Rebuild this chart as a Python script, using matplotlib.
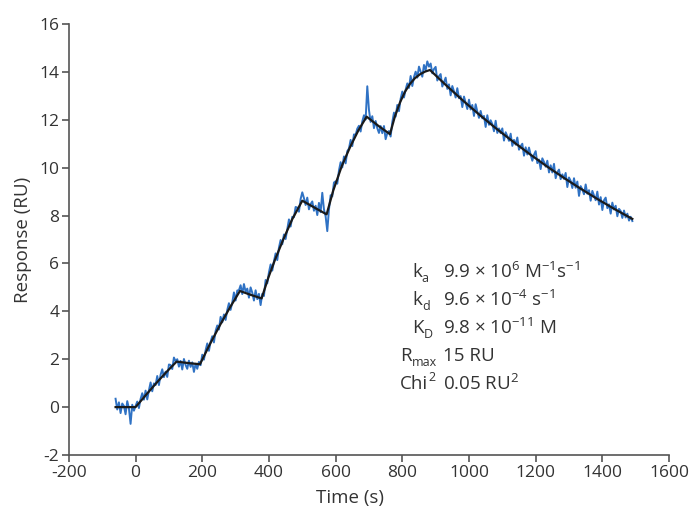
import matplotlib
matplotlib.use("Agg")
import matplotlib.pyplot as plt
import numpy as np

plt.rcParams["font.family"] = ["Open Sans", "DejaVu Sans"]
plt.rcParams["mathtext.fontset"] = "custom"
plt.rcParams["mathtext.rm"] = "Open Sans"
plt.rcParams["mathtext.default"] = "regular"
plt.rcParams["axes.unicode_minus"] = False

# sensorgram, sampled every 5 s from -60 to 1490 s
time_s = np.arange(-60, 1495, 5)
response_ru = [
    # baseline
    0.35, -0.10, 0.20, -0.25, 0.15, 0.05, -0.30, 0.25, -0.05, -0.70, 0.10, -0.15, 0.05,
    # injection 1
    0.23, -0.04, 0.34, 0.58, 0.31, 0.69, 0.32, 0.70, 1.03, 0.66, 0.99, 0.92,
    1.30, 0.92, 1.35, 1.58, 1.25, 1.48, 1.26, 1.78, 1.76, 1.59, 2.07, 1.92,
    2.00, 1.69, 1.93, 1.57, 2.01, 1.76, 1.60, 1.94, 1.68, 1.87, 1.47, 1.81, 1.60, 1.89,
    # injection 2
    1.75, 2.19, 1.98, 2.37, 2.66, 2.35, 2.73, 2.96, 2.70, 3.18, 3.41, 3.24,
    3.77, 3.54, 3.87, 3.64, 4.06, 4.34, 4.06, 4.37, 4.79, 4.45, 4.87, 4.88,
    5.09, 4.72, 5.14, 4.82, 4.95, 4.57, 5.00, 4.78, 4.45, 4.88, 4.51, 4.73, 4.26,
    # injection 3
    4.73, 4.64, 5.31, 5.17, 5.63, 5.96, 5.70, 6.09, 6.42, 6.14, 6.66, 6.98, 6.80,
    7.21, 7.02, 7.43, 7.84, 7.54, 7.95, 7.93, 8.36, 8.33, 8.16, 8.69, 8.97,
    8.73, 8.44, 8.75, 8.26, 8.48, 8.59, 8.20, 8.41, 8.02, 8.53, 8.14, 8.95, 8.26, 7.97,
    # injection 4
    7.35, 8.25, 8.85, 8.80, 9.38, 9.43, 9.33, 9.88, 10.23, 10.01, 10.47, 10.18,
    10.69, 10.80, 11.16, 10.90, 11.39, 11.37, 11.63, 11.75, 11.51, 11.93, 12.19, 12.01,
    13.40, 12.41, 11.91, 12.15, 11.65, 11.95, 11.65, 11.45, 11.74, 11.44, 11.74, 11.19, 11.44, 11.53,
    # injection 5
    11.30, 11.90, 12.30, 12.13, 12.62, 12.36, 12.88, 13.18, 12.93, 13.26, 13.52, 13.33,
    13.83, 13.41, 13.79, 14.01, 13.76, 14.22, 14.01, 13.80, 14.29, 14.07, 14.44, 14.22,
    # dissociation
    14.35, 13.94, 14.12, 14.21, 13.64, 13.82, 13.91, 13.39, 13.58, 13.76, 13.29, 13.48,
    13.02, 13.41, 13.19, 12.93, 13.32, 12.90, 12.99, 12.53, 12.97, 12.71, 12.45, 12.84,
    12.43, 12.62, 12.16, 12.65, 12.34, 12.08, 12.37, 12.06, 12.16, 11.70, 12.19, 11.79,
    11.98, 11.82, 11.52, 11.96, 11.45, 11.64, 11.44, 11.64, 11.13, 11.48, 11.32, 11.12,
    11.42, 10.91, 11.16, 10.96, 11.26, 10.75, 10.90, 11.00, 10.50, 10.85, 10.55, 10.84,
    10.54, 10.29, 10.54, 10.69, 10.19, 10.34, 9.94, 10.39, 10.24, 10.04, 10.29, 9.80,
    10.10, 9.80, 10.16, 9.56, 9.81, 9.92, 9.52, 9.72, 9.53, 9.78, 9.19, 9.59,
    9.45, 9.15, 9.56, 9.16, 9.42, 8.82, 9.23, 9.09, 8.89, 9.30, 8.91, 9.06,
    8.62, 9.03, 8.84, 8.64, 9.00, 8.46, 8.77, 8.23, 8.64, 8.75, 8.31, 8.47, 8.08,
    8.54, 8.25, 8.41, 7.97, 8.28, 8.19, 7.90, 8.21, 7.92, 8.08, 7.79, 7.95, 7.77,
]

# fitted 1:1 model curve
fit_t = [-60, 0, 30, 60, 90, 123, 158, 193, 223, 253, 283, 313, 345, 378, 398, 418,
         443, 470, 500, 537, 573, 593, 618, 643, 668, 693, 728, 763, 778, 793, 808,
         823, 838, 853, 868, 883, 933, 983, 1033, 1083, 1133, 1183, 1233, 1283, 1333,
         1383, 1433, 1490]
fit_r = [0, 0, 0.49, 0.97, 1.43, 1.90, 1.84, 1.79, 2.63, 3.42, 4.16, 4.85, 4.69, 4.54,
         5.40, 6.15, 7.0, 7.85, 8.62, 8.33, 8.05, 9.05, 10.05, 10.85, 11.55, 12.13,
         11.75, 11.40, 12.15, 12.72, 13.17, 13.50, 13.74, 13.90, 14.01, 14.08, 13.42,
         12.79, 12.19, 11.62, 11.08, 10.56, 10.06, 9.59, 9.14, 8.71, 8.30, 7.86]

param_names = ["k", "k", "K", "R", "Chi"]
param_subs = ["a", "d", "D", "max", ""]
param_sups = ["", "", "", "", "2"]
param_values = ["9.9 × 10$^{6}$ M$^{-1}$s$^{-1}$", "9.6 × 10$^{-4}$ s$^{-1}$",
                "9.8 × 10$^{-11}$ M", "15 RU", "0.05 RU$^{2}$"]

txt = "#333333"
fig = plt.figure(figsize=(6.89, 5.11), dpi=100)
ax = fig.add_axes([0.100, 0.1096, 0.871, 0.8434])

ax.plot(time_s, response_ru, color="#2f72c4", lw=1.4)
ax.plot(fit_t, fit_r, color="#1a1a1a", lw=1.6)

ax.set_xlim(-200, 1600)
ax.set_ylim(-2, 16)
ax.set_xticks(np.arange(-200, 1601, 200))
ax.set_yticks(np.arange(-2, 17, 2))
for s in ["top", "right"]:
    ax.spines[s].set_visible(False)
for s in ["left", "bottom"]:
    ax.spines[s].set_color("#555555")
    ax.spines[s].set_linewidth(1.2)
ax.tick_params(direction="out", length=5, width=1.2, color="#555555",
               labelcolor=txt, labelsize=12.5, pad=2)
ax.set_xlabel("Time (s)", fontsize=13.5, color=txt)
ax.set_ylabel("Response (RU)", fontsize=13.5, color=txt)
ax.xaxis.set_label_coords(0.468, -0.08)
ax.yaxis.set_label_coords(-0.062, 0.5)

# parameter block, one row per fitted value
y0 = 272
for i in range(len(param_names)):
    yf = 1 - (y0 + i * 28) / 511
    x_lab = 400 if (len(param_subs[i]) > 1 or param_sups[i]) else 412
    t = fig.text(x_lab / 689, yf, param_names[i], fontsize=13.5, color=txt, va="center")
    if param_subs[i]:
        ax.annotate(param_subs[i], xy=(1.0, 0.12), xycoords=t, fontsize=9,
                    color=txt, ha="left", va="center")
    if param_sups[i]:
        ax.annotate(param_sups[i], xy=(1.0, 0.85), xycoords=t, fontsize=9,
                    color=txt, ha="left", va="center")
    fig.text(443 / 689, yf, param_values[i], fontsize=13.5, color=txt, va="center")

fig.savefig("out.png", dpi=100)
